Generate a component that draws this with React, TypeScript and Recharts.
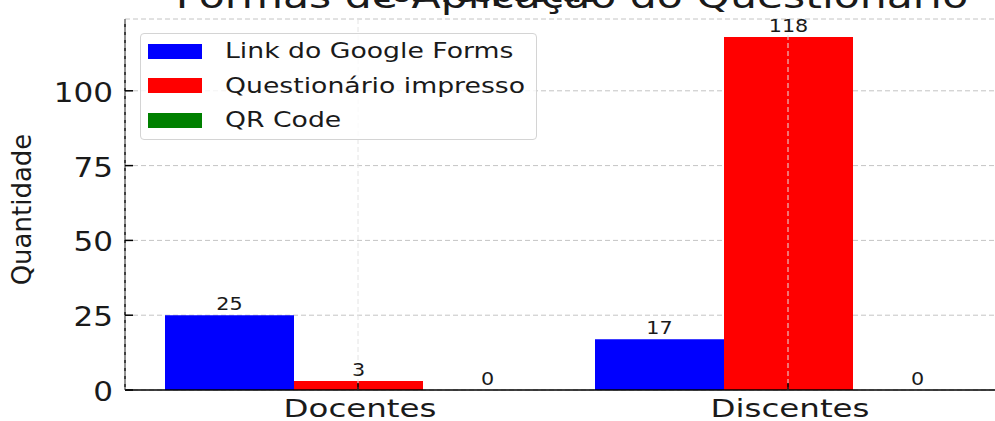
import React from 'react';
import { BarChart, Bar, XAxis, YAxis, CartesianGrid, Legend, LabelList } from 'recharts';

const categories = ['Docentes', 'Discentes'];
const googleForms = [25, 17];
const impresso = [3, 118];
const qrCode = [0, 0];
const yTicks = [0, 25, 50, 75, 100];
const seriesKeys = ['google', 'impresso', 'qr'];
const seriesNames = ['Link do Google Forms', 'Questionário impresso', 'QR Code'];
const seriesColors = ['#0000ff', '#ff0000', '#008000'];
const titleText = 'Formas de Aplicação do Questionário';
const subtitleText = '163 respostas';
const yLabelText = 'Quantidade';

const data = categories.map((name, i) => ({
  name,
  google: googleForms[i],
  impresso: impresso[i],
  qr: qrCode[i],
}));

const FONT = '"DejaVu Sans", Verdana, sans-serif';
const INK = '#1a1a1a';

const YTick = (props: any) => {
  const { x, y, payload } = props;
  return (
    <g>
      <line x1={x} y1={y} x2={x + 8} y2={y} stroke="#000" strokeWidth={1.5} />
      <text
        transform={`translate(${x - 12},${y + 11}) scale(1.15,1)`}
        textAnchor="end"
        fontSize={27}
        fontFamily={FONT}
        fill={INK}
      >
        {payload.value}
      </text>
    </g>
  );
};

const XTick = (props: any) => {
  const { x, y, payload } = props;
  return (
    <g>
      <line x1={x} y1={y} x2={x} y2={y - 7} stroke="#000" strokeWidth={1.5} />
      <text
        transform={`translate(${x + 2},${y + 27}) scale(1.3,1)`}
        textAnchor="middle"
        fontSize={25}
        fontFamily={FONT}
        fill={INK}
      >
        {payload.value}
      </text>
    </g>
  );
};

const BarLabel = (props: any) => {
  const { x, y, width, value } = props;
  return (
    <text
      transform={`translate(${Number(x) + Number(width) / 2},${Number(y) - 5}) scale(1.15,1)`}
      textAnchor="middle"
      fontSize={18}
      fontFamily={FONT}
      fill={INK}
    >
      {String(value)}
    </text>
  );
};

const YLabel = (props: any) => {
  const vb = props.viewBox || { x: 0, y: 19, width: 125, height: 371 };
  const cx = vb.x + 31;
  const cy = vb.y + vb.height / 2 + 5;
  return (
    <text
      transform={`translate(${cx},${cy}) rotate(-90)`}
      textAnchor="middle"
      fontSize={26}
      fontFamily={FONT}
      fill={INK}
    >
      {yLabelText}
    </text>
  );
};

const LegendBox = (props: any) => {
  const payload = props.payload || [];
  const ordered = seriesNames
    .map((n) => payload.find((p: any) => p.value === n))
    .filter(Boolean);
  return (
    <div
      style={{
        width: 397,
        height: 107,
        border: '1px solid #d4d4d4',
        borderRadius: 4,
        background: 'rgba(255,255,255,0.8)',
        boxSizing: 'border-box',
        fontFamily: FONT,
        paddingTop: 0,
      }}
    >
      {ordered.map((entry: any, i: number) => (
        <div key={i} style={{ height: 34.5, display: 'flex', alignItems: 'center' }}>
          <div style={{ width: 54, height: 15, background: entry.color, marginLeft: 7, flex: 'none' }} />
          <span
            style={{
              marginLeft: 23,
              fontSize: 21,
              transform: 'scaleX(1.27)',
              transformOrigin: 'left center',
              display: 'inline-block',
              whiteSpace: 'nowrap',
              color: INK,
              lineHeight: '24px',
            }}
          >
            {entry.value}
          </span>
        </div>
      ))}
    </div>
  );
};

export default function App() {
  const gridProps: any = { zIndex: 600 };
  return (
    <div
      style={{
        position: 'absolute',
        left: 0,
        top: 0,
        width: 995,
        height: 421,
        overflow: 'hidden',
        background: '#fff',
      }}
    >
      <BarChart
        width={1040}
        height={421}
        data={data}
        margin={{ top: 19, right: 18, bottom: 0, left: 0 }}
        barGap={0}
        barSize={129}
      >
        <CartesianGrid vertical={false} stroke="#c4c4c4" strokeDasharray="5 3" />
        <XAxis
          dataKey="name"
          height={31}
          padding={{ left: 18, right: 19 }}
          axisLine={{ stroke: '#000', strokeWidth: 1.5 }}
          tickLine={false}
          tickSize={0}
          tickMargin={0}
          tick={<XTick />}
          interval={0}
        />
        <YAxis
          width={125}
          domain={[0, 124]}
          ticks={yTicks}
          allowDataOverflow
          axisLine={{ stroke: '#000', strokeWidth: 1.5 }}
          tickLine={false}
          tickSize={0}
          tickMargin={0}
          tick={<YTick />}
          label={<YLabel />}
        />
        {seriesKeys.map((k, i) => (
          <Bar
            key={k}
            dataKey={k}
            name={seriesNames[i]}
            fill={seriesColors[i]}
            minPointSize={0.01}
            isAnimationActive={false}
          >
            <LabelList dataKey={k} content={<BarLabel />} />
          </Bar>
        ))}
        <CartesianGrid horizontal={false} stroke="#e4e4e4" strokeDasharray="5 3" {...gridProps} />
        <Legend
          layout="vertical"
          align="center"
          verticalAlign="middle"
          content={<LegendBox />}
          wrapperStyle={{ position: 'absolute', left: 140, top: 33, width: 397, height: 107 }}
        />
      </BarChart>
      <svg
        width={995}
        height={421}
        style={{ position: 'absolute', left: 0, top: 0, pointerEvents: 'none' }}
      >
        <text
          transform="translate(572,8) scale(1.29,1)"
          textAnchor="middle"
          fontSize={33}
          fontFamily={FONT}
          fill={INK}
        >
          {titleText}
        </text>
        <text
          transform="translate(485,2) scale(1.3,1)"
          textAnchor="middle"
          fontSize={22}
          fontWeight="bold"
          fontFamily={FONT}
          fill={INK}
        >
          {subtitleText}
        </text>
      </svg>
    </div>
  );
}
